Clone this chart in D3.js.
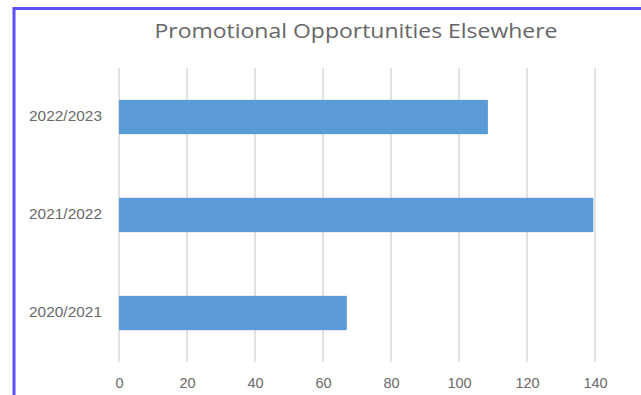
<!DOCTYPE html>
<html><head><meta charset="utf-8">
<script src="https://cdn.jsdelivr.net/npm/d3@7"></script>
<style>body{margin:0;background:#fff;}svg{display:block;font-family:"Open Sans",Lato,sans-serif;}</style>
</head><body><svg id="c" width="641" height="395"></svg>
<script>
const categories = ["2020/2021", "2021/2022", "2022/2023"];
const values = [67, 139.5, 108.5];
const xTicks = [0, 20, 40, 60, 80, 100, 120, 140];
const title = "Promotional Opportunities Elsewhere";

const svg = d3.select("#c");
svg.append("rect").attr("x", 14).attr("y", 8.5).attr("width", 700).attr("height", 500)
  .attr("fill", "#fff").attr("stroke", "#5b4ff5").attr("stroke-width", 3);

const m = {left: 119, right: 595, top: 68, bottom: 362};
const x = d3.scaleLinear().domain([0, 140]).range([m.left, m.right]);
const y = d3.scaleBand().domain(categories.slice().reverse()).range([m.top, m.bottom]).paddingInner(0.65).paddingOuter(0.325);

svg.append("g").selectAll("line").data(xTicks).join("line")
  .attr("x1", d => x(d)).attr("x2", d => x(d)).attr("y1", m.top).attr("y2", m.bottom)
  .attr("stroke", "#d9d9d9").attr("stroke-width", 1.5);

svg.append("g").selectAll("rect").data(categories).join("rect")
  .attr("x", x(0)).attr("y", d => y(d)).attr("height", y.bandwidth())
  .attr("width", (d, i) => x(values[i]) - x(0)).attr("fill", "#5b9bd5");

const xa = svg.append("g").attr("transform", `translate(0,${m.bottom})`)
  .call(d3.axisBottom(x).tickValues(xTicks).tickSize(0).tickPadding(16));
xa.select(".domain").remove();
xa.selectAll("text").attr("fill", "#6a6a6a").attr("font-size", 14.5);

const ya = svg.append("g").attr("transform", `translate(${m.left},0)`)
  .call(d3.axisLeft(y).tickSize(0).tickPadding(17));
ya.select(".domain").remove();
ya.selectAll("text").attr("fill", "#6a6a6a").attr("font-size", 14)
  .attr("textLength", 73).attr("lengthAdjust", "spacingAndGlyphs");

svg.append("text").attr("x", 356).attr("y", 37.5).attr("text-anchor", "middle")
  .attr("fill", "#666").attr("font-size", 20.5)
  .attr("textLength", 403).attr("lengthAdjust", "spacingAndGlyphs").text(title);
</script></body></html>
